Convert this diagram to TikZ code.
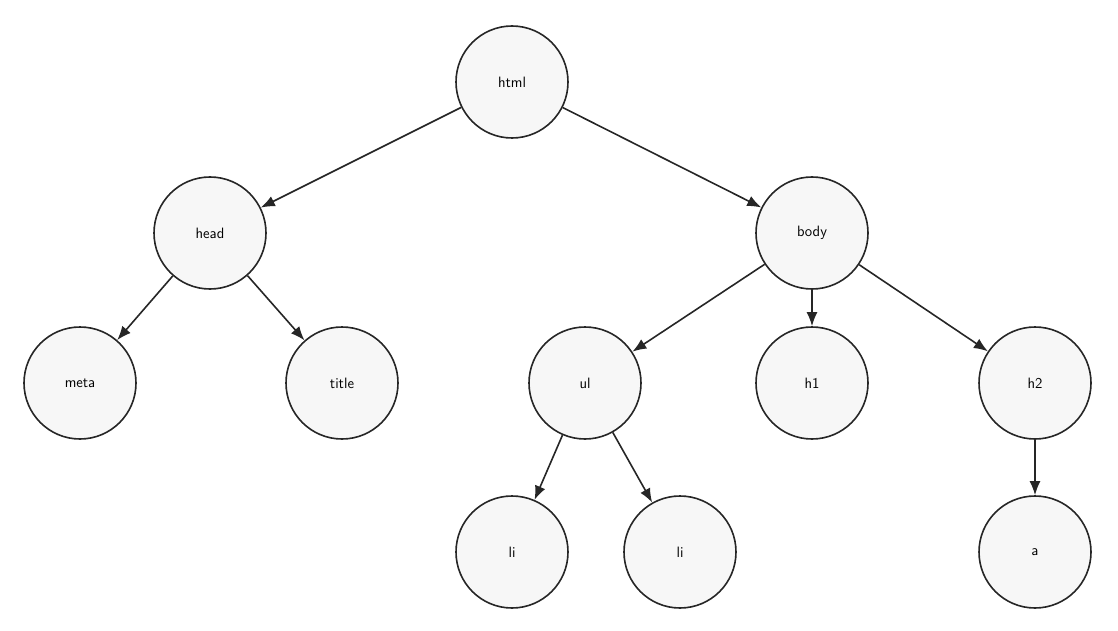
\documentclass[tikz,border=0pt]{standalone}
\usetikzlibrary{arrows.meta}
\begin{document}
\begin{tikzpicture}[x=1pt,y=-1pt,
  tn/.style={circle,draw=black!85,fill=black!3,line width=1.6pt,minimum size=112pt,inner sep=0pt,font=\sffamily\fontsize{15}{18}\selectfont},
  ed/.style={draw=black!85,line width=1.6pt,-{Latex[length=14pt,width=11pt]}}]
\useasboundingbox (0,0) rectangle (1118,631);
\node[tn] (html) at (512,82) {html};
\node[tn] (head) at (210,233) {head};
\node[tn] (body) at (812,233) {body};
\node[tn] (meta) at (80,383) {meta};
\node[tn] (title) at (342,383) {title};
\node[tn] (ul) at (585,383) {ul};
\node[tn] (h1) at (812,383) {h1};
\node[tn] (h2) at (1035,383) {h2};
\node[tn] (li1) at (512,552) {li};
\node[tn] (li2) at (680,552) {li};
\node[tn] (a) at (1035,552) {a};
\foreach \p/\c in {html/head,html/body,head/meta,head/title,body/ul,body/h1,body/h2,ul/li1,ul/li2,h2/a}
  \draw[ed] (\p) -- (\c);
\end{tikzpicture}
\end{document}
